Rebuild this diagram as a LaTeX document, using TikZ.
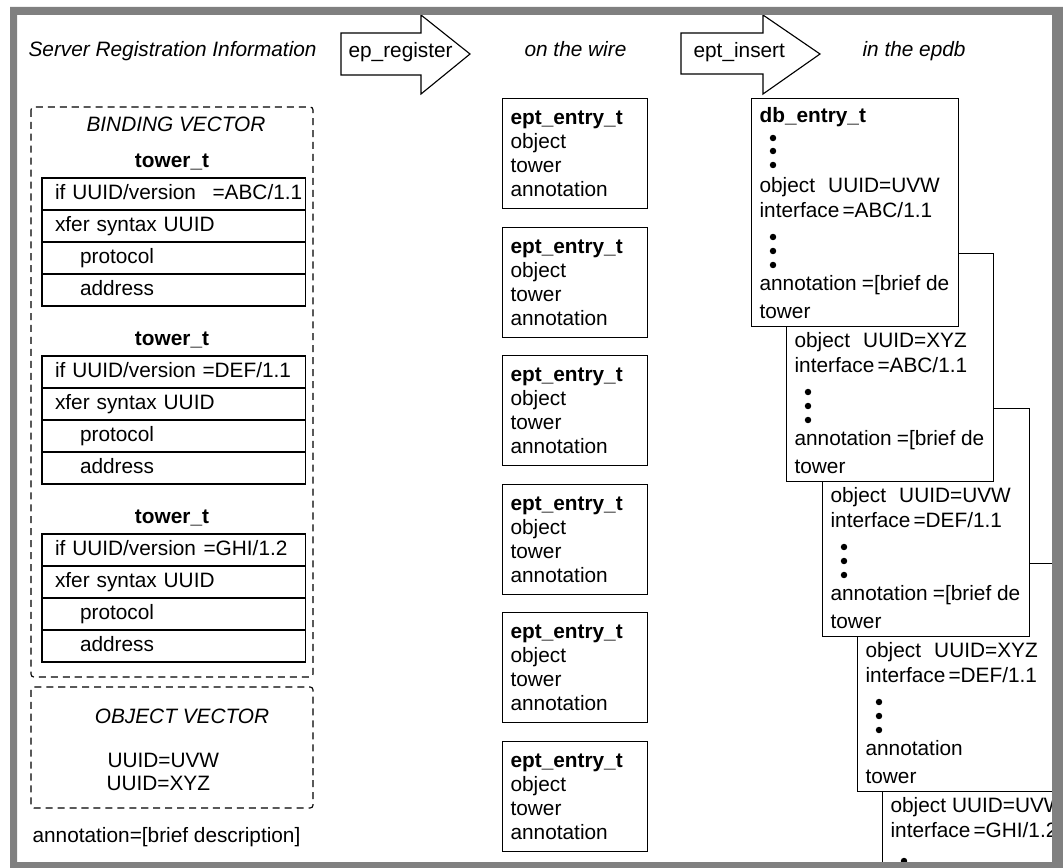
\documentclass[tikz,border=0pt]{standalone}
\usepackage{fontspec}
\setmainfont{Liberation Sans}
\usetikzlibrary{positioning,calc}

\definecolor{framegray}{gray}{0.5}
\newcommand{\fsz}{\fontsize{14.8}{17}\selectfont}

\begin{document}
\begin{tikzpicture}[x=0.025cm,y=-0.025cm,thick,
  txt/.style={inner sep=0pt,anchor=west,font=\fsz,text height=10.6pt,text depth=3.1pt},
  head/.style={txt,font=\fsz\itshape},
  tname/.style={txt,anchor=center,font=\fsz\bfseries},
  cell/.style={draw,anchor=north west,font=\fsz,inner xsep=0.325cm,inner ysep=0pt,
    outer sep=0pt,minimum width=6.575cm,minimum height=0.8cm,text width=5.925cm,
    align=left,text height=10.6pt,text depth=3.1pt},
  entry/.style={draw,anchor=north west,font=\fsz,inner xsep=0.2cm,inner ysep=0pt,
    minimum width=3.625cm,minimum height=2.75cm,text width=3.225cm,align=left},
  dbbox/.style={draw,fill=white,anchor=north west,inner sep=0pt,
    minimum width=5.175cm,minimum height=5.7cm},
  vecbox/.style={draw,dash pattern=on 5pt off 3.5pt,rounded corners=2pt}]

  \useasboundingbox (0,0) rectangle (1063,867);

  \begin{scope}
  \clip (17,15) rectangle (1052,862);

  % headings and block arrows
  \node[head] (srv) at (28,51) {Server Registration Information};
  \draw[fill=white] (341,33) -- (421,33) -- (421,15) -- (470,54) -- (421,94)
    -- (421,75) -- (341,75) -- cycle;
  \node[txt] (epreg) at (348,52) {ep\_register};
  \node[head] (wire) at (524,51) {on the wire};
  \draw[fill=white] (681,33) -- (763,33) -- (763,15) -- (820,54) -- (763,94)
    -- (763,74) -- (681,74) -- cycle;
  \node[txt] (eptins) at (693,52) {ept\_insert};
  \node[head] (epdb) at (862,51) {in the epdb};

  % binding vector
  \draw[vecbox] (31,107) rectangle (313,677);
  \node[head,anchor=center] (bvec) at (176,126) {BINDING VECTOR};
  \foreach \i/\ty/\vx/\nm/\vn in {1/178/212/ABC/1.1,2/356/202/DEF/1.1,3/534/203/GHI/1.2} {
    \node[tname] (tw\i) at (172,\ty-16) {tower\_t};
    \node[cell] (if\i) at (42,\ty) {if UUID/version};
    \node[cell,below=0pt of if\i] (xf\i) {xfer syntax UUID};
    \node[cell,below=0pt of xf\i] (pr\i) {\hspace*{0.625cm}protocol};
    \node[cell,below=0pt of pr\i] (ad\i) {\hspace*{0.625cm}address};
    \node[txt] (ver\i) at (\vx,\ty+16) {=\nm/\vn};
  }

  % object vector
  \draw[vecbox] (31,687) rectangle (313,808);
  \node[head,anchor=center] (ovec) at (182,718) {OBJECT VECTOR};
  \node[txt] (uvw) at (107,762) {UUID=UVW};
  \node[txt] (xyz) at (106,785) {UUID=XYZ};
  \node[txt] (annot) at (32,837) {annotation=[brief description]};

  % on the wire
  \foreach \i/\y in {1/98,2/227,3/355,4/484,5/612,6/741}
    \node[entry] (ept\i) at (502,\y) {\textbf{ept\_entry\_t}\\object\\tower\\annotation};

  % in the epdb
  \foreach \i/\x/\y/\gap/\obj/\ifn/\ifv in {5/882/718/0.12/UVW/GHI/1.2,4/857/563/0.3/XYZ/DEF/1.1,
      3/822/408/0.3/UVW/DEF/1.1,2/786/253/0.3/XYZ/ABC/1.1,1/751/98/0.3/UVW/ABC/1.1} {
    \node[dbbox] (db\i) at (\x,\y) {};
    \node[txt] (ob\i) at (\x+8,\y+89) {object};
    \node[txt,right=\gap cm of ob\i] (ou\i) {UUID=\obj};
    \node[txt] (in\i) at (\x+8,\y+114) {interface};
    \node[txt,right=0.05cm of in\i] (iv\i) {=\ifn/\ifv};
    \ifnum\i<5
      \foreach \d in {139,153,167}
        \fill (\x+22,\y+\d) circle[radius=2.3pt];
      \node[txt] (an\i) at (\x+8,\y+187) {annotation};
      \node[txt] (to\i) at (\x+8,\y+215) {tower};
    \else
      \fill (\x+22,\y+143) circle[radius=2.3pt];
    \fi
  }
  \node[txt,font=\fsz\bfseries] (dbhead) at (759,117) {db\_entry\_t};
  \foreach \d in {138,151,165}
    \fill (773,\d) circle[radius=2.3pt];
  \foreach \i in {1,2,3}
    \node[txt,right=0.1cm of an\i] (av\i) {=[brief de};
  \end{scope}

  % frame
  \fill[framegray,even odd rule] (10,7) rectangle (1075,880) (17,15) rectangle (1052,862);
\end{tikzpicture}
\end{document}
